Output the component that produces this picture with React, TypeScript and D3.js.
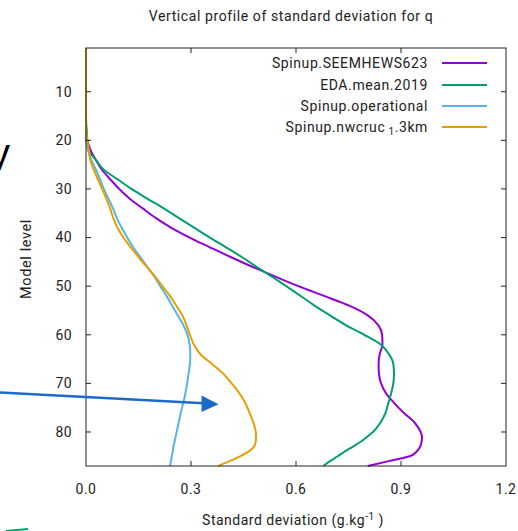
import React from "react";
import * as d3 from "d3";

const levels = [1, 5, 10, 15, 17, 18, 19, 20, 21, 22, 23, 24, 26, 28, 30, 32, 34, 36, 38, 40, 42, 44, 46, 48, 50, 52, 54, 56, 58, 60, 62, 64, 66, 68, 70, 72, 74, 76, 78, 80, 81, 82, 83, 84, 85, 86, 87];

const seemhews623 = [0, 0, 0, 0, 0, 0.001, 0.002, 0.004, 0.008, 0.013, 0.02, 0.028, 0.045, 0.069, 0.095, 0.125, 0.162, 0.2, 0.244, 0.296, 0.354, 0.413, 0.475, 0.54, 0.607, 0.68, 0.752, 0.805, 0.835, 0.846, 0.847, 0.839, 0.836, 0.837, 0.843, 0.857, 0.88, 0.907, 0.938, 0.956, 0.96, 0.959, 0.955, 0.945, 0.925, 0.865, 0.805];

const edaMean2019 = [0, 0, 0, 0, 0.001, 0.002, 0.003, 0.003, 0.004, 0.006, 0.016, 0.028, 0.05, 0.09, 0.13, 0.175, 0.222, 0.266, 0.31, 0.354, 0.4, 0.445, 0.487, 0.53, 0.572, 0.613, 0.653, 0.697, 0.742, 0.795, 0.842, 0.866, 0.878, 0.88, 0.878, 0.872, 0.864, 0.856, 0.842, 0.82, 0.803, 0.785, 0.763, 0.74, 0.719, 0.697, 0.678];

const operational = [0, 0, 0, 0, 0, 0, 0, 0, 0.003, 0.006, 0.01, 0.015, 0.028, 0.04, 0.051, 0.064, 0.077, 0.088, 0.102, 0.118, 0.135, 0.155, 0.175, 0.195, 0.212, 0.23, 0.246, 0.262, 0.278, 0.29, 0.296, 0.298, 0.297, 0.293, 0.289, 0.284, 0.278, 0.271, 0.265, 0.259, 0.256, 0.253, 0.25, 0.248, 0.245, 0.243, 0.24];

const nwcruc13km = [0, 0, 0, 0, 0, 0.001, 0.002, 0.004, 0.006, 0.008, 0.01, 0.012, 0.022, 0.034, 0.046, 0.058, 0.069, 0.078, 0.09, 0.107, 0.128, 0.15, 0.173, 0.197, 0.218, 0.24, 0.258, 0.275, 0.287, 0.297, 0.308, 0.327, 0.36, 0.392, 0.416, 0.438, 0.455, 0.467, 0.478, 0.485, 0.486, 0.485, 0.48, 0.465, 0.44, 0.41, 0.378];

const seriesValues = [seemhews623, edaMean2019, operational, nwcruc13km];
const seriesColors = ["#9400d3", "#009e73", "#56b4e9", "#e69f00"];
const xTicks = [0, 0.3, 0.6, 0.9, 1.2];
const yTicks = [10, 20, 30, 40, 50, 60, 70, 80];

const FONT = "Roboto, 'DejaVu Sans', sans-serif";
const TXT = "#222";

export default function App() {
  const left = 86, right = 506, top = 48, bottom = 466;
  const x = d3.scaleLinear().domain([0, 1.2]).range([left, right]);
  const y = d3.scaleLinear().domain([1, 87]).range([top, bottom]);
  const line = d3
    .line<[number, number]>()
    .x((d) => x(d[0]))
    .y((d) => y(d[1]))
    .curve(d3.curveMonotoneY);

  const legendRows = [63, 85, 106, 127];
  const tick = 5;

  return (
    <svg
      width={518}
      height={531}
      style={{ position: "absolute", left: 0, top: 0, background: "#fff" }}
      fontFamily={FONT}
    >
      <rect x={0} y={0} width={518} height={531} fill="#fff" />
      {/* slide fragments */}
      <text x={-10} y={167} fontSize={40} fontFamily="'Liberation Sans', Arial, sans-serif" fill="#000">
        y
      </text>
      <line x1={6} y1={531} x2={28} y2={529} stroke="#00a36c" strokeWidth={2} />

      {/* title */}
      <text x={291} y={21} textAnchor="middle" fontSize={14} fill={TXT} letterSpacing={0.6}>
        Vertical profile of standard deviation for q
      </text>

      {/* curves */}
      {seriesValues.map((vals, i) => (
        <path
          key={i}
          d={line(vals.map((v, j) => [v, levels[j]] as [number, number])) || ""}
          fill="none"
          stroke={seriesColors[i]}
          strokeWidth={2}
          strokeLinejoin="round"
        />
      ))}

      {/* frame */}
      <rect x={left} y={top} width={right - left} height={bottom - top} fill="none" stroke="#222" strokeWidth={1} />
      {xTicks.slice(1, -1).map((t) => (
        <g key={"xt" + t}>
          <line x1={x(t)} x2={x(t)} y1={bottom} y2={bottom - tick} stroke="#222" />
          <line x1={x(t)} x2={x(t)} y1={top} y2={top + tick} stroke="#222" />
        </g>
      ))}
      {yTicks.map((t) => (
        <g key={"yt" + t}>
          <line x1={left} x2={left + tick} y1={y(t)} y2={y(t)} stroke="#222" />
          <line x1={right} x2={right - tick} y1={y(t)} y2={y(t)} stroke="#222" />
          <text x={72} y={y(t)} dy="0.35em" textAnchor="end" fontSize={14} fill={TXT} letterSpacing={0.4}>
            {t}
          </text>
        </g>
      ))}
      {xTicks.map((t) => (
        <text key={"xl" + t} x={x(t)} y={494} textAnchor="middle" fontSize={14} fill={TXT} letterSpacing={0.5}>
          {t.toFixed(1)}
        </text>
      ))}

      {/* axis labels */}
      <text x={293} y={525} textAnchor="middle" fontSize={14} fill={TXT} letterSpacing={0.5}>
        Standard deviation (g.kg
        <tspan fontSize={10} dy={-5}>-1</tspan>
        <tspan dy={5}> )</tspan>
      </text>
      <text
        transform={`translate(31,259) rotate(-90)`}
        textAnchor="middle"
        fontSize={14.5}
        fill={TXT}
        letterSpacing={0.6}
      >
        Model level
      </text>

      {/* legend */}
      {legendRows.map((ly, i) => (
        <g key={"lg" + i}>
          <text x={428} y={ly} dy="0.35em" textAnchor="end" fontSize={14} fill={TXT} letterSpacing={0.6}>
            {i === 0 && "Spinup.SEEMHEWS623"}
            {i === 1 && "EDA.mean.2019"}
            {i === 2 && "Spinup.operational"}
            {i === 3 && (
              <>
                Spinup.nwcruc
                <tspan fontSize={10} dy={3}> 1</tspan>
                <tspan dy={-3}>.3km</tspan>
              </>
            )}
          </text>
          <line x1={442} x2={487} y1={ly} y2={ly} stroke={seriesColors[i]} strokeWidth={2} />
        </g>
      ))}

      {/* annotation arrow */}
      <line x1={0} y1={392.5} x2={204} y2={403.3} stroke="#1b6ac9" strokeWidth={2.5} />
      <path d="M201.5,395.5 L218.5,404.3 L201.5,412 Z" fill="#1b6ac9" />
    </svg>
  );
}
